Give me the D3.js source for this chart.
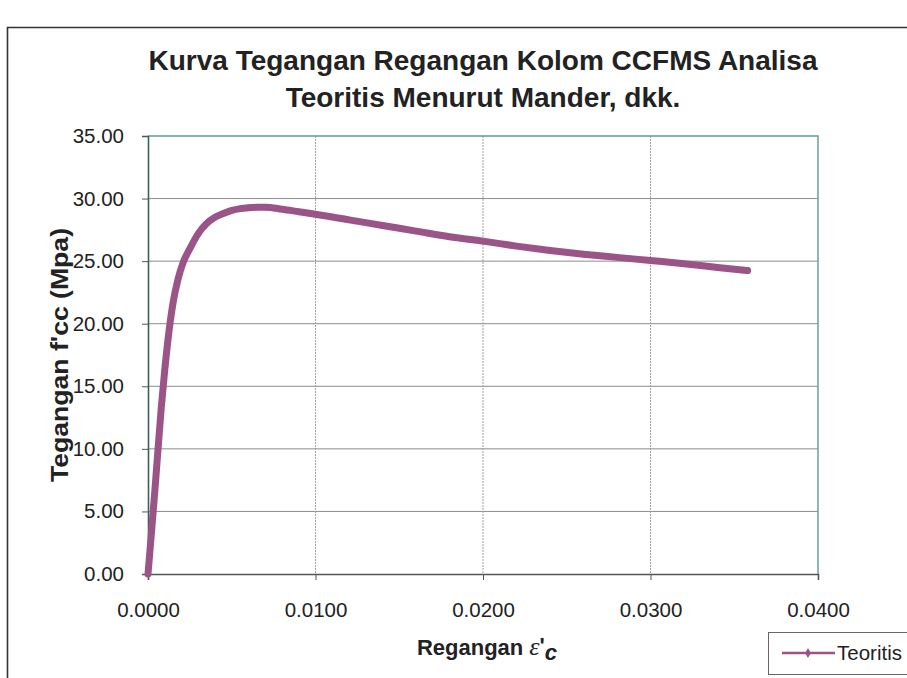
<!DOCTYPE html>
<html>
<head>
<meta charset="utf-8">
<script src="https://cdn.jsdelivr.net/npm/d3@7"></script>
<style>
  html, body { margin: 0; padding: 0; background: #fff; }
  svg { display: block; }
  text { font-family: "Liberation Sans", Arial, sans-serif; fill: #222; }
</style>
</head>
<body>
<svg id="chart" width="907" height="678"></svg>
<script>
// Stress-strain curve of the CCFMS column (Mander et al. model)
const strain = [0, 0.0002, 0.0004, 0.0006, 0.0008, 0.0010, 0.0012, 0.0015, 0.0018, 0.0021,
  0.0025, 0.0030, 0.0035, 0.0040, 0.0045, 0.0050, 0.0055, 0.0060, 0.0065, 0.0070,
  0.0080, 0.0090, 0.0100, 0.0120, 0.0140, 0.0160, 0.0180, 0.0200, 0.0220, 0.0240,
  0.0260, 0.0280, 0.0300, 0.0320, 0.0340, 0.0358];
const stress = [0, 3.2, 6.5, 10.0, 13.4, 16.3, 18.8, 21.7, 23.6, 24.9,
  26.0, 27.2, 28.0, 28.5, 28.8, 29.05, 29.2, 29.27, 29.3, 29.3,
  29.15, 28.95, 28.75, 28.3, 27.85, 27.4, 26.95, 26.6, 26.2, 25.85,
  25.55, 25.3, 25.05, 24.8, 24.5, 24.25];
const xTicks = [0, 0.01, 0.02, 0.03, 0.04];
const yTicks = [0, 5, 10, 15, 20, 25, 30, 35];
const seriesName = "Teoritis";
const titleLines = ["Kurva Tegangan Regangan Kolom CCFMS Analisa", "Teoritis Menurut Mander, dkk."];

const svg = d3.select("#chart");
const plot = { left: 148, right: 818, top: 136, bottom: 574 };
const lineColor = "#9a5488";

const x = d3.scaleLinear().domain([0, 0.04]).range([plot.left, plot.right]);
const y = d3.scaleLinear().domain([0, 35]).range([plot.bottom, plot.top]);

// outer chart frame
svg.append("path")
  .attr("d", "M7.5,678 L7.5,27.5 L907,27.5")
  .attr("fill", "none").attr("stroke", "#333").attr("stroke-width", 1.6);

// title
const title = svg.append("text")
  .attr("text-anchor", "middle")
  .attr("font-weight", "bold")
  .attr("font-size", 28);
titleLines.forEach((t, i) => {
  title.append("tspan").attr("x", 483).attr("y", 70 + i * 37).text(t);
});

// gridlines
svg.append("g")
  .selectAll("line").data(yTicks.filter(d => d > 0 && d < 35)).join("line")
  .attr("x1", plot.left).attr("x2", plot.right)
  .attr("y1", d => y(d)).attr("y2", d => y(d))
  .attr("stroke", "#8c8c8c").attr("stroke-width", 1);
svg.append("g")
  .selectAll("line").data(xTicks.filter(d => d > 0 && d < 0.04)).join("line")
  .attr("x1", d => x(d)).attr("x2", d => x(d))
  .attr("y1", plot.top).attr("y2", plot.bottom)
  .attr("stroke", "#a0a0a0").attr("stroke-width", 1).attr("stroke-dasharray", "2,1");

// plot area border (top and right)
svg.append("path")
  .attr("d", `M${plot.left},${plot.top} L${plot.right},${plot.top} L${plot.right},${plot.bottom}`)
  .attr("fill", "none").attr("stroke", "#5a9e94").attr("stroke-width", 1.4);

// axes
const yAxis = d3.axisLeft(y).tickValues(yTicks).tickFormat(d3.format(".2f")).tickSize(6).tickPadding(18);
const xAxis = d3.axisBottom(x).tickValues(xTicks).tickFormat(d3.format(".4f")).tickSize(6).tickPadding(22);

const gy = svg.append("g").attr("transform", `translate(${plot.left},0)`).call(yAxis);
const gx = svg.append("g").attr("transform", `translate(0,${plot.bottom})`).call(xAxis);
[gx, gy].forEach(g => {
  g.selectAll("text").attr("font-size", 20.5).attr("font-family", "Liberation Sans, Arial, sans-serif").attr("fill", "#222");
  g.selectAll(".tick line").attr("stroke", "#555");
});
gy.select(".domain").attr("stroke", "#3d5e5a").attr("stroke-width", 1.6);
gx.select(".domain").attr("stroke", "#555").attr("stroke-width", 1.6);

// axis titles
svg.append("text")
  .attr("transform", `translate(68,355) rotate(-90)`)
  .attr("text-anchor", "middle")
  .attr("font-weight", "bold").attr("font-size", 23)
  .attr("textLength", 254).attr("lengthAdjust", "spacingAndGlyphs")
  .text("Tegangan f'cc (Mpa)");

const xt = svg.append("text")
  .attr("x", 487).attr("y", 655)
  .attr("text-anchor", "middle")
  .attr("font-weight", "bold").attr("font-size", 22);
xt.append("tspan").text("Regangan ");
xt.append("tspan").attr("font-family", "Liberation Serif, serif").attr("font-style", "italic").attr("font-weight", "normal").attr("font-size", 26).text("ε");
xt.append("tspan").attr("dy", -2).text("'");
xt.append("tspan").attr("dy", 7).attr("font-style", "italic").text("c");

// series line with markers
const line = d3.line().x((d, i) => x(strain[i])).y((d, i) => y(stress[i])).curve(d3.curveMonotoneX);
svg.append("path")
  .datum(stress)
  .attr("d", line)
  .attr("fill", "none").attr("stroke", lineColor).attr("stroke-width", 7)
  .attr("stroke-linecap", "round").attr("stroke-linejoin", "round");

const diamond = d3.symbol().type(d3.symbolDiamond).size(14);
svg.append("g").selectAll("path").data(stress).join("path")
  .attr("transform", (d, i) => `translate(${x(strain[i])},${y(d)})`)
  .attr("d", diamond).attr("fill", lineColor);

// legend
const lg = svg.append("g");
lg.append("rect").attr("x", 768.5).attr("y", 632.5).attr("width", 160).attr("height", 42)
  .attr("fill", "#fff").attr("stroke", "#666").attr("stroke-width", 1);
lg.append("line").attr("x1", 782).attr("x2", 835).attr("y1", 653).attr("y2", 653)
  .attr("stroke", lineColor).attr("stroke-width", 2.5);
lg.append("path").attr("transform", "translate(808,653)").attr("d", d3.symbol().type(d3.symbolDiamond).size(30)).attr("fill", lineColor);
lg.append("text").attr("x", 837).attr("y", 660).attr("font-size", 20.5).text(seriesName);
</script>
</body>
</html>
